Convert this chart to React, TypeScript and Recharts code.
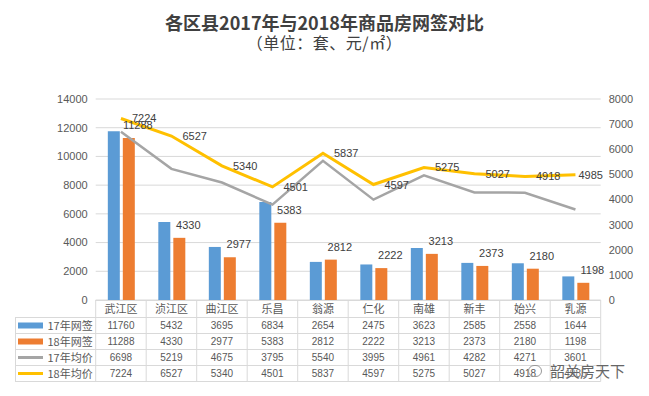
import { ComposedChart, Bar, Line, XAxis, YAxis, CartesianGrid } from 'recharts';

const categories = ['武江区', '浈江区', '曲江区', '乐昌', '翁源', '仁化', '南雄', '新丰', '始兴', '乳源'];
const sign17 = [11760, 5432, 3695, 6834, 2654, 2475, 3623, 2585, 2558, 1644];
const sign18 = [11288, 4330, 2977, 5383, 2812, 2222, 3213, 2373, 2180, 1198];
const price17 = [6698, 5219, 4675, 3795, 5540, 3995, 4961, 4282, 4271, 3601];
const price18 = [7224, 6527, 5340, 4501, 5837, 4597, 5275, 5027, 4918, 4985];
const leftTicks = [0, 2000, 4000, 6000, 8000, 10000, 12000, 14000];
const rightTicks = [0, 1000, 2000, 3000, 4000, 5000, 6000, 7000, 8000];

const chartData = categories.map((name, i) => ({
  name,
  sign17: sign17[i],
  sign18: sign18[i],
  price17: price17[i],
  price18: price18[i],
}));

const rows = [
  { label: '17年网签', values: sign17, color: '#5B9BD5', kind: 'bar' },
  { label: '18年网签', values: sign18, color: '#ED7D31', kind: 'bar' },
  { label: '17年均价', values: price17, color: '#A5A5A5', kind: 'line' },
  { label: '18年均价', values: price18, color: '#FFC000', kind: 'line' },
];

const FONT = '"Liberation Sans", "Noto Sans CJK SC", sans-serif';
const CJK = '"Noto Sans CJK SC", sans-serif';

// table geometry (matches the plot area 95.7 .. 600.7)
const TABLE_LEFT = 15;
const COL0 = 95.7;
const COL_W = 50.5;
const HEADER_TOP = 300;
const HEADER_BOTTOM = 317;
const ROW_H = 16;
const GRID = '#D9D9D9';

const BarValueLabel = (props: any) => {
  const { x, y, width, value } = props;
  return (
    <text x={x + width / 2 + 9} y={y - 9} textAnchor="middle" fontSize={11} fill="#404040" fontFamily={FONT}>
      {value}
    </text>
  );
};

const LineValueLabel = (props: any) => {
  const { x, y, value, index } = props;
  // last label is pulled in so it stays inside the plot, like Excel does
  const dx = index === categories.length - 1 ? 3 : 11;
  return (
    <text x={x + dx} y={y + 4} textAnchor="start" fontSize={11} fill="#404040" fontFamily={FONT}>
      {value}
    </text>
  );
};

function DataTable() {
  const right = COL0 + COL_W * categories.length;
  const bottom = HEADER_BOTTOM + ROW_H * rows.length;
  return (
    <svg width={649} height={396} style={{ position: 'absolute', left: 0, top: 0, pointerEvents: 'none' }}>
      <line x1={COL0} x2={right} y1={HEADER_TOP + 0.5} y2={HEADER_TOP + 0.5} stroke={GRID} />
      {[0, 1, 2, 3, 4].map((k) => (
        <line
          key={k}
          x1={TABLE_LEFT}
          x2={right}
          y1={HEADER_BOTTOM + k * ROW_H + 0.5}
          y2={HEADER_BOTTOM + k * ROW_H + 0.5}
          stroke={GRID}
        />
      ))}
      <line x1={TABLE_LEFT + 0.5} x2={TABLE_LEFT + 0.5} y1={HEADER_BOTTOM} y2={bottom + 0.5} stroke={GRID} />
      {categories.map((c, i) => (
        <line key={c} x1={COL0 + i * COL_W} x2={COL0 + i * COL_W} y1={HEADER_TOP} y2={bottom + 0.5} stroke={GRID} />
      ))}
      <line x1={right} x2={right} y1={HEADER_TOP} y2={bottom + 0.5} stroke={GRID} />

      {categories.map((c, i) => (
        <text
          key={c}
          x={COL0 + (i + 0.5) * COL_W}
          y={HEADER_TOP + 12.5}
          textAnchor="middle"
          fontSize={11}
          fill="#595959"
          fontFamily={CJK}
        >
          {c}
        </text>
      ))}

      {rows.map((r, ri) => {
        const top = HEADER_BOTTOM + ri * ROW_H;
        const mid = top + ROW_H / 2 + 0.5;
        return (
          <g key={r.label}>
            {r.kind === 'bar' ? (
              <rect x={18} y={mid - 3} width={25} height={6} fill={r.color} />
            ) : (
              <rect x={18} y={mid - 1.5} width={25} height={3} fill={r.color} />
            )}
            <text x={COL0 - 3} y={mid + 4} textAnchor="end" fontSize={11} fill="#595959" fontFamily={CJK}>
              {r.label}
            </text>
            {r.values.map((v, i) => (
              <text
                key={i}
                x={COL0 + (i + 0.5) * COL_W}
                y={mid + 3.5}
                textAnchor="middle"
                fontSize={10}
                fill="#595959"
                fontFamily={FONT}
              >
                {v}
              </text>
            ))}
          </g>
        );
      })}
    </svg>
  );
}

export default function App() {
  return (
    <div style={{ position: 'absolute', left: 0, top: 0, width: 649, height: 396, background: '#fff', overflow: 'hidden' }}>
      <div style={{ position: 'absolute', left: 0, top: 10, width: 649, textAlign: 'center', fontFamily: CJK, fontWeight: 700, fontSize: 18, color: '#404040', lineHeight: '24px' }}>
        各区县2017年与2018年商品房网签对比
      </div>
      <div style={{ position: 'absolute', left: 0, top: 32, width: 649, textAlign: 'center', fontFamily: CJK, fontSize: 16, letterSpacing: 0.5, color: '#404040', lineHeight: '20px' }}>
        （单位：套、元/㎡）
      </div>

      <div style={{ position: 'absolute', left: 0, top: 0 }}>
        <ComposedChart
          width={649}
          height={396}
          data={chartData}
          margin={{ top: 99, right: 0, bottom: 96, left: 0 }}
          barCategoryGap="24%"
          barGap={3}
        >
          <CartesianGrid vertical={false} stroke="#D9D9D9" yAxisId="left" />
          <XAxis dataKey="name" hide />
          <YAxis
            yAxisId="left"
            width={95.7}
            domain={[0, 14000]}
            ticks={leftTicks}
            axisLine={false}
            tickLine={false}
            interval={0}
            tick={{ fontSize: 11, fill: '#595959', fontFamily: FONT }}
          />
          <YAxis
            yAxisId="right"
            orientation="right"
            width={48.3}
            domain={[0, 8000]}
            ticks={rightTicks}
            axisLine={false}
            tickLine={false}
            interval={0}
            tick={{ fontSize: 11, fill: '#595959', fontFamily: FONT }}
          />
          <Bar yAxisId="left" dataKey="sign17" fill="#5B9BD5" isAnimationActive={false} />
          <Bar yAxisId="left" dataKey="sign18" fill="#ED7D31" isAnimationActive={false} label={BarValueLabel} />
          <Line yAxisId="right" type="linear" dataKey="price17" stroke="#A5A5A5" strokeWidth={2.5} dot={false} isAnimationActive={false} />
          <Line yAxisId="right" type="linear" dataKey="price18" stroke="#FFC000" strokeWidth={3} dot={false} isAnimationActive={false} label={LineValueLabel} />
        </ComposedChart>
      </div>

      <DataTable />

      <div style={{ position: 'absolute', left: 528, top: 361, fontFamily: CJK, fontSize: 15, color: '#666', lineHeight: '20px', display: 'flex', alignItems: 'center', gap: 8, textShadow: '0 0 2px #fff' }}>
        <span style={{ display: 'inline-block', width: 12, height: 10, borderRadius: 6, border: '1.5px solid #9A9A9A' }} />
        韶关房天下
      </div>
    </div>
  );
}
